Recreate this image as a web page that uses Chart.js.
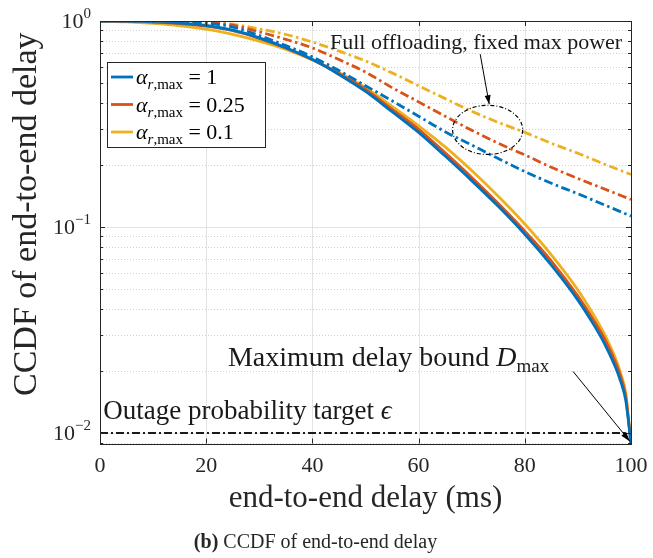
<!DOCTYPE html>
<html><head><meta charset="utf-8">
<script src="https://cdn.jsdelivr.net/npm/chart.js@4.4.0/dist/chart.umd.min.js"></script>
<style>html,body{margin:0;padding:0;background:#fff;}#wrap{position:relative;width:653px;height:558px;}</style>
</head><body><div id="wrap"><canvas id="c" width="653" height="558"></canvas></div>
<script>
// ---------- data ----------
const solidDelay = [0,5,10,15,20,25,30,35,40,45,50,55,60,65,70,75,80,85,90,93,95,97,98,99,100];
const ccdfAlpha1   = [1,0.998,0.991,0.977,0.951,0.902,0.828,0.741,0.65,0.55,0.455,0.363,0.288,0.221,0.168,0.126,0.0923,0.0653,0.0442,0.0335,0.0272,0.0211,0.018,0.01445,0.0089];
const ccdfAlpha025 = [1,0.997,0.988,0.972,0.944,0.897,0.824,0.74,0.65,0.556,0.466,0.373,0.298,0.229,0.174,0.13,0.0955,0.0684,0.0462,0.0352,0.0287,0.0223,0.019,0.0151,0.0089];
const ccdfAlpha01  = [1,0.991,0.973,0.948,0.912,0.861,0.798,0.728,0.647,0.562,0.474,0.385,0.31,0.245,0.188,0.141,0.1035,0.0733,0.0495,0.0373,0.0302,0.0233,0.0197,0.0157,0.0089];
const fullOffDelay = [0,5,10,15,20,25,30,35,40,45,50,55,60,65,70,75,80,85,90,95,100];
const fullOffAlpha1   = [1,1,0.998,0.99,0.975,0.935,0.85,0.76,0.67,0.575,0.485,0.41,0.345,0.29,0.25,0.215,0.186,0.163,0.145,0.128,0.113];
const fullOffAlpha025 = [1,1,0.999,0.995,0.985,0.955,0.885,0.815,0.74,0.65,0.565,0.475,0.405,0.345,0.295,0.255,0.224,0.195,0.172,0.153,0.136];
const fullOffAlpha01  = [1,1,1,0.998,0.99,0.965,0.915,0.86,0.79,0.715,0.64,0.56,0.485,0.42,0.365,0.322,0.288,0.255,0.228,0.202,0.18];
const alphaValues = ['1','0.25','0.1'];
const xTickValues = [0,20,40,60,80,100];
const yMajorValues = [0.01,0.1,1];
const yMajorExponents = ['\u22122','\u22121','0'];
const outageTarget = 0.01;
const maxDelay = 100;
const yMin = 0.0089, yMax = 1;

// ---------- style ----------
const COLORS = ['#0072BD','#D95319','#EDB120'];
const AX = '#262626';
const SERIF = '"Liberation Serif","Times New Roman",serif';

function pts(xs, ys){ return xs.map((x,i)=>({x:x,y:ys[i]})); }
const solidSets = [ccdfAlpha1, ccdfAlpha025, ccdfAlpha01];
const fullSets = [fullOffAlpha1, fullOffAlpha025, fullOffAlpha01];
const datasets = [];
fullSets.forEach((s,i)=>datasets.push({data:pts(fullOffDelay,s),borderColor:COLORS[i],borderWidth:2.8,borderDash:[9,3.5,2.5,3.5],pointRadius:0,cubicInterpolationMode:'monotone',fill:false}));
solidSets.forEach((s,i)=>datasets.push({data:pts(solidDelay,s),borderColor:COLORS[i],borderWidth:2.8,pointRadius:0,cubicInterpolationMode:'monotone',fill:false}));
datasets.push({data:[{x:xTickValues[0],y:outageTarget},{x:maxDelay,y:outageTarget}],borderColor:'#1a1a1a',borderWidth:2,borderDash:[8,3,2,3],pointRadius:0,fill:false});

function font(size, italic, bold){ return (italic?'italic ':'')+(bold?'bold ':'')+size+'px '+SERIF; }
function rich(ctx, parts, x, y, align){
  let w=0; parts.forEach(p=>{ctx.font=font(p.s,p.i,p.b); p.w=ctx.measureText(p.t).width; w+=p.w;});
  let cx = align==='right'? x-w : align==='center'? x-w/2 : x;
  ctx.textBaseline='alphabetic'; ctx.textAlign='left';
  parts.forEach(p=>{ctx.font=font(p.s,p.i,p.b); ctx.fillText(p.t,cx,y+(p.dy||0)); cx+=p.w;});
  return w;
}
function arrow(ctx,x1,y1,x2,y2,len,wid){
  ctx.beginPath(); ctx.moveTo(x1,y1); ctx.lineTo(x2,y2); ctx.stroke();
  const a=Math.atan2(y2-y1,x2-x1);
  ctx.beginPath(); ctx.moveTo(x2,y2);
  ctx.lineTo(x2-len*Math.cos(a)+wid*Math.sin(a), y2-len*Math.sin(a)-wid*Math.cos(a));
  ctx.lineTo(x2-len*Math.cos(a)-wid*Math.sin(a), y2-len*Math.sin(a)+wid*Math.cos(a));
  ctx.closePath(); ctx.fill();
}
function minorValues(){
  const out=[]; for(let e=-3;e<0;e++){ for(let k=2;k<=9;k++){ const v=k*Math.pow(10,e); if(v>=yMin&&v<=yMax) out.push(v);} } return out;
}

const decor = {
  id:'decor',
  beforeDatasetsDraw(chart){
    const {ctx, chartArea:a, scales:{x,y}} = chart;
    ctx.save();
    ctx.lineWidth=1;
    ctx.strokeStyle='#d0d0d0'; ctx.setLineDash([1,2]);
    minorValues().forEach(v=>{const py=Math.round(y.getPixelForValue(v))+0.5; ctx.beginPath(); ctx.moveTo(a.left,py); ctx.lineTo(a.right,py); ctx.stroke();});
    ctx.setLineDash([]); ctx.strokeStyle='#e3e3e3';
    yMajorValues.forEach(v=>{const py=Math.round(y.getPixelForValue(v))+0.5; ctx.beginPath(); ctx.moveTo(a.left,py); ctx.lineTo(a.right,py); ctx.stroke();});
    xTickValues.forEach(v=>{const px=Math.round(x.getPixelForValue(v))+0.5; ctx.beginPath(); ctx.moveTo(px,a.top); ctx.lineTo(px,a.bottom); ctx.stroke();});
    ctx.restore();
  },
  afterDatasetsDraw(chart){
    const {ctx, chartArea:a, scales:{x,y}} = chart;
    ctx.save();
    ctx.fillStyle=AX; ctx.strokeStyle=AX; ctx.lineWidth=1;
    ctx.strokeRect(Math.round(a.left)+0.5, Math.round(a.top)+0.5, Math.round(a.right-a.left), Math.round(a.bottom-a.top));
    ctx.beginPath();
    xTickValues.forEach(v=>{const px=Math.round(x.getPixelForValue(v))+0.5; ctx.moveTo(px,a.bottom); ctx.lineTo(px,a.bottom-5); ctx.moveTo(px,a.top); ctx.lineTo(px,a.top+5);});
    yMajorValues.forEach(v=>{const py=Math.round(y.getPixelForValue(v))+0.5; ctx.moveTo(a.left,py); ctx.lineTo(a.left+5,py); ctx.moveTo(a.right,py); ctx.lineTo(a.right-5,py);});
    minorValues().forEach(v=>{const py=Math.round(y.getPixelForValue(v))+0.5; ctx.moveTo(a.left,py); ctx.lineTo(a.left+3,py); ctx.moveTo(a.right,py); ctx.lineTo(a.right-3,py);});
    ctx.stroke();
    // x tick labels
    ctx.textAlign='center'; ctx.textBaseline='middle'; ctx.font=font(22);
    xTickValues.forEach(v=>ctx.fillText(String(v), x.getPixelForValue(v), a.bottom+23));
    // y tick labels
    yMajorValues.forEach((v,i)=>{
      const py=y.getPixelForValue(v);
      rich(ctx,[{t:'10',s:22},{t:yMajorExponents[i],s:15,dy:-10}], a.left-9, py+7, 'right');
    });
    // axis titles
    ctx.font=font(31); ctx.textAlign='center'; ctx.textBaseline='middle';
    ctx.fillText('end-to-end delay (ms)', (a.left+a.right)/2, a.bottom+55);
    ctx.save(); ctx.translate(27,(a.top+a.bottom)/2-18); ctx.rotate(-Math.PI/2);
    ctx.font=font(34); ctx.fillText('CCDF of end-to-end delay',0,0); ctx.restore();
    // caption
    rich(ctx,[{t:'(b)',s:20,b:true},{t:' CCDF of end-to-end delay',s:20}], (a.left+a.right)/2-50, 548, 'center');
    // legend
    const lx=a.left+7, ly=a.top+41, lw=158, lh=85;
    ctx.fillStyle='#fff'; ctx.fillRect(lx,ly,lw,lh);
    ctx.strokeStyle=AX; ctx.strokeRect(lx+0.5,ly+0.5,lw,lh);
    alphaValues.forEach((v,i)=>{
      const ry=ly+15+i*27.5;
      ctx.strokeStyle=COLORS[i]; ctx.lineWidth=2.8; ctx.beginPath(); ctx.moveTo(lx+4,ry); ctx.lineTo(lx+26,ry); ctx.stroke();
      ctx.fillStyle='#000';
      rich(ctx,[{t:'\u03B1',s:22,i:true},{t:'r',s:15,i:true,dy:5},{t:',max',s:15,dy:5},{t:' = '+v,s:22}], lx+29, ry+7, 'left');
    });
    // ellipse annotation
    ctx.strokeStyle='#000'; ctx.fillStyle='#000'; ctx.lineWidth=1.2; ctx.setLineDash([4,2,1,2]);
    const ecx=x.getPixelForValue(73), ex2=x.getPixelForValue(79.6);
    const eTop=y.getPixelForValue(0.39), eBot=y.getPixelForValue(0.225);
    ctx.beginPath(); ctx.ellipse(ecx,(eTop+eBot)/2,ex2-ecx,(eBot-eTop)/2,0,0,Math.PI*2); ctx.stroke();
    ctx.setLineDash([]); ctx.lineWidth=1;
    arrow(ctx, x.getPixelForValue(71.6), y.getPixelForValue(0.69), x.getPixelForValue(73.3), eTop-1, 9, 3);
    arrow(ctx, x.getPixelForValue(89.1), y.getPixelForValue(0.0199), x.getPixelForValue(maxDelay)-1, y.getPixelForValue(yMin)-2, 10, 3);
    // texts
    ctx.fillStyle='#1a1a1a';
    rich(ctx,[{t:'Full offloading, fixed max power',s:22}], x.getPixelForValue(43.3), y.getPixelForValue(0.795)+7, 'left');
    rich(ctx,[{t:'Maximum delay bound ',s:28},{t:'D',s:28,i:true},{t:'max',s:19,dy:6}], x.getPixelForValue(24.1), y.getPixelForValue(0.0235)+9, 'left');
    rich(ctx,[{t:'Outage probability target ',s:27},{t:'\u03F5',s:27,i:true}], x.getPixelForValue(0.6), y.getPixelForValue(0.013)+9, 'left');
    ctx.restore();
  }
};

new Chart(document.getElementById('c'), {
  type:'line',
  data:{datasets:datasets},
  options:{
    responsive:false, animation:false, events:[],
    layout:{padding:{left:0,right:22,top:21,bottom:0}},
    plugins:{legend:{display:false},tooltip:{enabled:false}},
    scales:{
      x:{type:'linear',min:xTickValues[0],max:maxDelay,ticks:{display:false},grid:{display:false},border:{display:false},afterFit:s=>{s.height=114.5;}},
      y:{type:'logarithmic',min:yMin,max:yMax,ticks:{display:false},grid:{display:false},border:{display:false},afterFit:s=>{s.width=100;}}
    }
  },
  plugins:[decor]
});
</script></body></html>
